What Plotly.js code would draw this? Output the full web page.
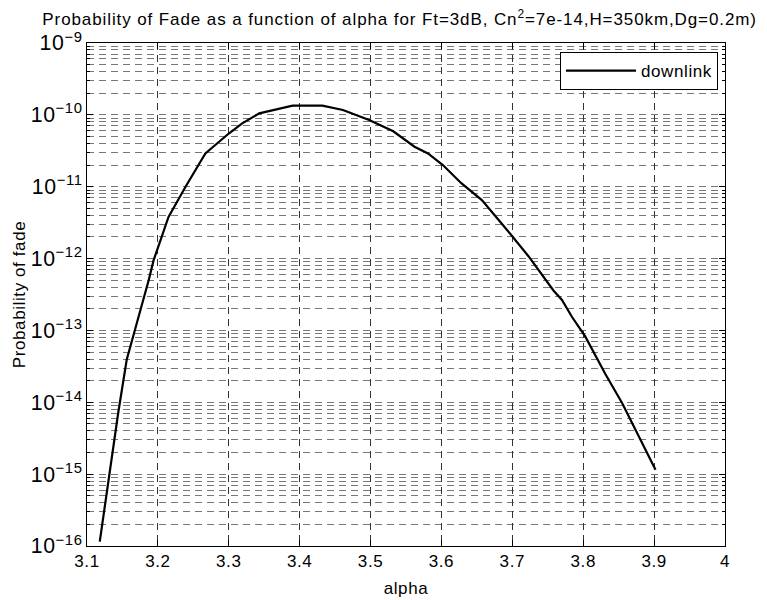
<!DOCTYPE html>
<html>
<head>
<meta charset="utf-8">
<script src="https://cdn.plot.ly/plotly-3.0.1.min.js"></script>
<style>
html,body{margin:0;padding:0;background:#fff;}
#chart{width:767px;height:600px;}
svg text{letter-spacing:0.6px;}
svg text.gtitle{letter-spacing:0.9px;}
</style>
</head>
<body>
<div id="chart"></div>
<script>
const alpha = [3.118,3.133,3.144,3.156,3.168,3.187,3.194,3.215,3.239,3.267,3.300,3.319,3.343,3.371,3.390,3.432,3.461,3.498,3.532,3.562,3.581,3.602,3.628,3.657,3.671,3.699,3.723,3.758,3.770,3.784,3.803,3.831,3.855,3.883,3.902];
const pfade = [1.15e-16,1.26e-15,7.1e-15,3.9e-14,1.02e-13,5.0e-13,9.5e-13,3.8e-12,1.0e-11,2.9e-11,5.5e-11,7.6e-11,1.05e-10,1.23e-10,1.34e-10,1.34e-10,1.17e-10,8.5e-11,5.9e-11,3.6e-11,2.9e-11,2.0e-11,1.12e-11,6.5e-12,4.5e-12,2.1e-12,1.07e-12,3.6e-13,2.65e-13,1.55e-13,8.2e-14,2.5e-14,9.7e-15,2.7e-15,1.15e-15];
const xTicks = [3.1,3.2,3.3,3.4,3.5,3.6,3.7,3.8,3.9,4];
const xTickText = ['3.1','3.2','3.3','3.4','3.5','3.6','3.7','3.8','3.9','4'];
const seriesName = 'downlink';

const font = {family: 'Liberation Sans, Arial, sans-serif', size: 17, color: '#000'};

Plotly.newPlot('chart', [{
  x: alpha, y: pfade, type: 'scatter', mode: 'lines', name: seriesName,
  line: {color: '#000', width: 2.2}
}], {
  width: 767, height: 600,
  margin: {l: 87, r: 42, t: 43, b: 54},
  paper_bgcolor: '#fff', plot_bgcolor: '#fff',
  font: font,
  showlegend: true,
  title: {text: 'Probability of Fade as a function of alpha for Ft=3dB, Cn<sup>2</sup>=7e-14,H=350km,Dg=0.2m)',
          font: {family: font.family, size: 17, color: '#000'}, x: 0.49, xref: 'paper', yref: 'container', y: 0.968, yanchor: 'middle'},
  xaxis: {
    range: [3.1, 4], tickvals: xTicks, ticktext: xTickText,
    showline: true, linecolor: '#000', linewidth: 1, mirror: 'ticks',
    ticks: 'inside', ticklen: 6, tickcolor: '#000',
    showgrid: true, gridcolor: '#333', griddash: '7px,5px', gridwidth: 1,
    zeroline: false,
    title: {text: 'alpha', font: font, standoff: 11},
    tickfont: font
  },
  yaxis: {
    type: 'log', range: [-16, -9], dtick: 1, exponentformat: 'power',
    showline: true, linecolor: '#000', linewidth: 1, mirror: 'ticks',
    ticks: 'inside', ticklen: 6, tickcolor: '#000',
    showgrid: true, gridcolor: '#777', griddash: '7px,5px', gridwidth: 1,
    minor: {dtick: 'D1', ticks: 'inside', ticklen: 3, tickcolor: '#000', showgrid: true, gridcolor: '#777', griddash: '7px,5px', gridwidth: 1},
    zeroline: false,
    title: {text: 'Probability of fade', font: font, standoff: 0},
    tickfont: font
  },
  legend: {
    x: 0.989, y: 0.982, xanchor: 'right', yanchor: 'top',
    bgcolor: '#fff', bordercolor: '#000', borderwidth: 1,
    font: font, itemwidth: 70
  }
}, {displayModeBar: false, staticPlot: true});
</script>
</body>
</html>
